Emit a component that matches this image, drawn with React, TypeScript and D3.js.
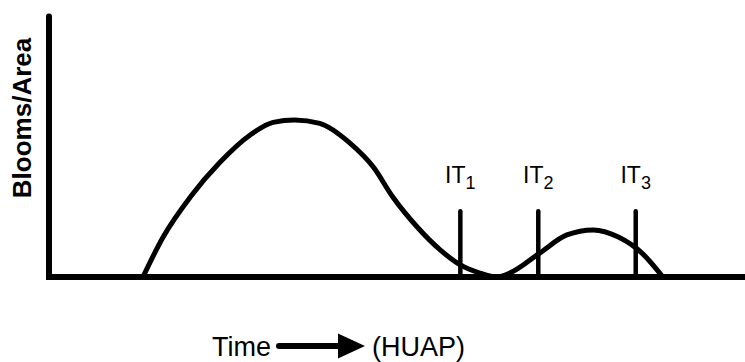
import React from 'react';
import * as d3 from 'd3';

const width = 745;
const height = 362;

// bloom curve, time in arbitrary units (0-100), blooms in relative units (0-100)
const timeValues = [13.5, 16.4, 20.3, 24.6, 28.9, 32.2, 35.3, 38.9, 43.2, 46.6, 49.4, 52.9, 56.2, 59.1, 61.9, 64.4, 66.2, 70.5, 74.4, 78.2, 81.8, 85.2, 88.2];
const bloomValues = [0, 15.2, 30.4, 43.7, 54.0, 58.8, 59.7, 58.4, 51.0, 41.8, 30.4, 19.0, 10.3, 4.6, 1.5, 0, 1.5, 9.1, 16.0, 17.9, 15.2, 9.1, 0];

// insecticide timings
const itTimes = [59.1, 70.3, 84.3];
const itSubs = ['1', '2', '3'];
const itHeight = 25;

const yLabel = 'Blooms/Area';
const xLabel = 'Time';
const xUnit = '(HUAP)';

const xScale = d3.scaleLinear().domain([0, 100]).range([49, 745]);
const yScale = d3.scaleLinear().domain([0, 100]).range([277, 14]);

const App = () => {
  const points = timeValues.map((t, i) => [t, bloomValues[i]] as [number, number]);
  const line = d3
    .line<[number, number]>()
    .x(d => xScale(d[0]))
    .y(d => yScale(d[1]))
    .curve(d3.curveMonotoneX);

  const font = '"Liberation Sans", Arial, Helvetica, sans-serif';
  const arrowY = 346;

  return (
    <svg
      width={width}
      height={height}
      style={{ position: 'fixed', left: 0, top: 0, background: '#fff' }}
      fontFamily={font}
    >
      <path d={line(points) || ''} fill='none' stroke='#000' strokeWidth={5} strokeLinejoin='round' />

      {itTimes.map((t, i) => (
        <g key={i}>
          <line
            x1={xScale(t)}
            x2={xScale(t)}
            y1={yScale(itHeight)}
            y2={yScale(0)}
            stroke='#000'
            strokeWidth={4.5}
            strokeLinecap='round'
          />
          <text x={xScale(t)} y={183} textAnchor='middle' fontSize={23}>
            IT
            <tspan fontSize={18} dy={6}>{itSubs[i]}</tspan>
          </text>
        </g>
      ))}

      {/* axes */}
      <line x1={xScale(0)} x2={xScale(0)} y1={16.5} y2={yScale(0)} stroke='#000' strokeWidth={6} strokeLinecap='round' />
      <line x1={xScale(0) - 3} x2={width} y1={yScale(0)} y2={yScale(0)} stroke='#000' strokeWidth={6} />

      <text
        transform='translate(31,118) rotate(-90)'
        textAnchor='middle'
        fontSize={26}
        fontWeight='bold'
      >
        {yLabel}
      </text>

      <text x={212} y={356} fontSize={27}>{xLabel}</text>
      <line x1={279} x2={342} y1={arrowY} y2={arrowY} stroke='#000' strokeWidth={6} strokeLinecap='round' />
      <path d={`M338,${arrowY - 12.5}L365,${arrowY}L338,${arrowY + 12.5}Z`} fill='#000' />
      <text x={372} y={356} fontSize={27}>{xUnit}</text>
    </svg>
  );
};

export default App;
